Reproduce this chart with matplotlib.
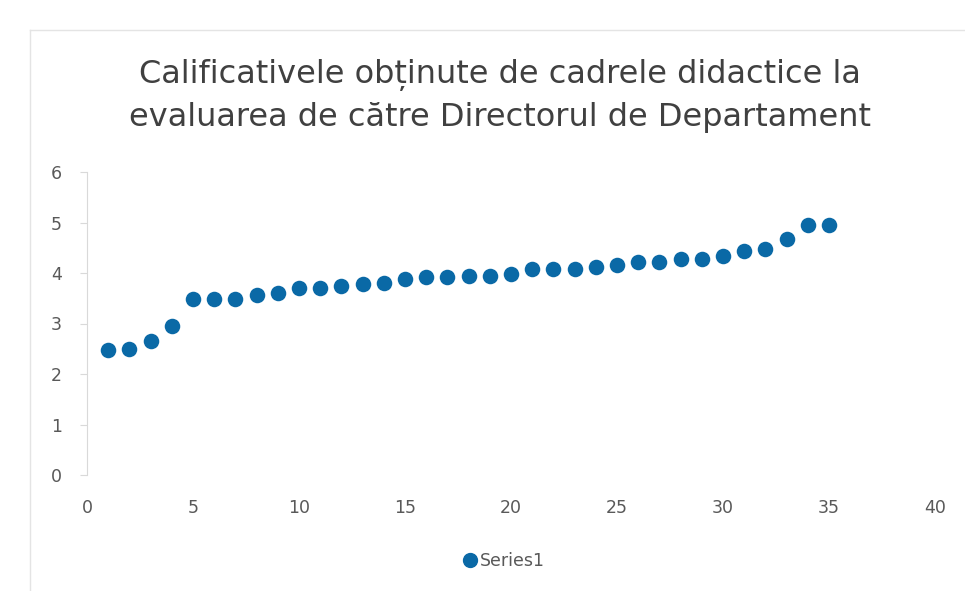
import matplotlib
matplotlib.use("Agg")
import matplotlib.pyplot as plt
from matplotlib.lines import Line2D

plt.rcParams['font.family'] = ['DejaVu Sans']

title = "Calificativele obținute de cadrele didactice la\nevaluarea de către Directorul de Departament"
series_name = "Series1"
x_vals = list(range(1, 36))
y_vals = [2.47, 2.50, 2.66, 2.96, 3.49, 3.49, 3.49, 3.56, 3.61, 3.71,
          3.71, 3.74, 3.78, 3.81, 3.88, 3.92, 3.92, 3.94, 3.94, 3.98,
          4.08, 4.08, 4.08, 4.11, 4.16, 4.21, 4.21, 4.27, 4.27, 4.34,
          4.44, 4.47, 4.67, 4.95, 4.95]
x_ticks = [0, 5, 10, 15, 20, 25, 30, 35, 40]
y_ticks = [0, 1, 2, 3, 4, 5, 6]

color = '#0a69a6'
txt = '#595959'

fig = plt.figure(figsize=(9.65, 5.91), dpi=100)
fig.patch.set_facecolor('white')
ax = fig.add_axes([87/965, 1-475/591, (935-87)/965, (475-172)/591])

ax.scatter(x_vals, y_vals, s=125, color=color, zorder=3, linewidths=0)
ax.set_xlim(0, 40)
ax.set_ylim(0, 6)
ax.set_xticks(x_ticks)
ax.set_yticks(y_ticks)
for s in ['top', 'right', 'bottom']:
    ax.spines[s].set_visible(False)
ax.spines['left'].set_color('#d9d9d9')
ax.tick_params(axis='y', colors='#d9d9d9', length=5, labelcolor=txt, labelsize=12.5, pad=13)
ax.tick_params(axis='x', length=0, labelcolor=txt, labelsize=12.5, pad=17)

fig.text(0.518, 1-96/591, title, ha='center', va='center', fontsize=23,
         color='#404040', linespacing=1.48)

# chart border (faint)
fig.add_artist(Line2D([30/965, 30/965], [0, 1-30/591], color='#e4e4e4', lw=1))
fig.add_artist(Line2D([30/965, 1], [1-30/591, 1-30/591], color='#e4e4e4', lw=1))

handle = Line2D([], [], marker='o', linestyle='', color=color, markersize=10)
fig.legend([handle], [series_name], loc='center', bbox_to_anchor=(503/965, 1-561/591),
           frameon=False, fontsize=12.5, labelcolor=txt, handletextpad=0.1,
           handlelength=1.0)

fig.savefig('out.png', dpi=100)
